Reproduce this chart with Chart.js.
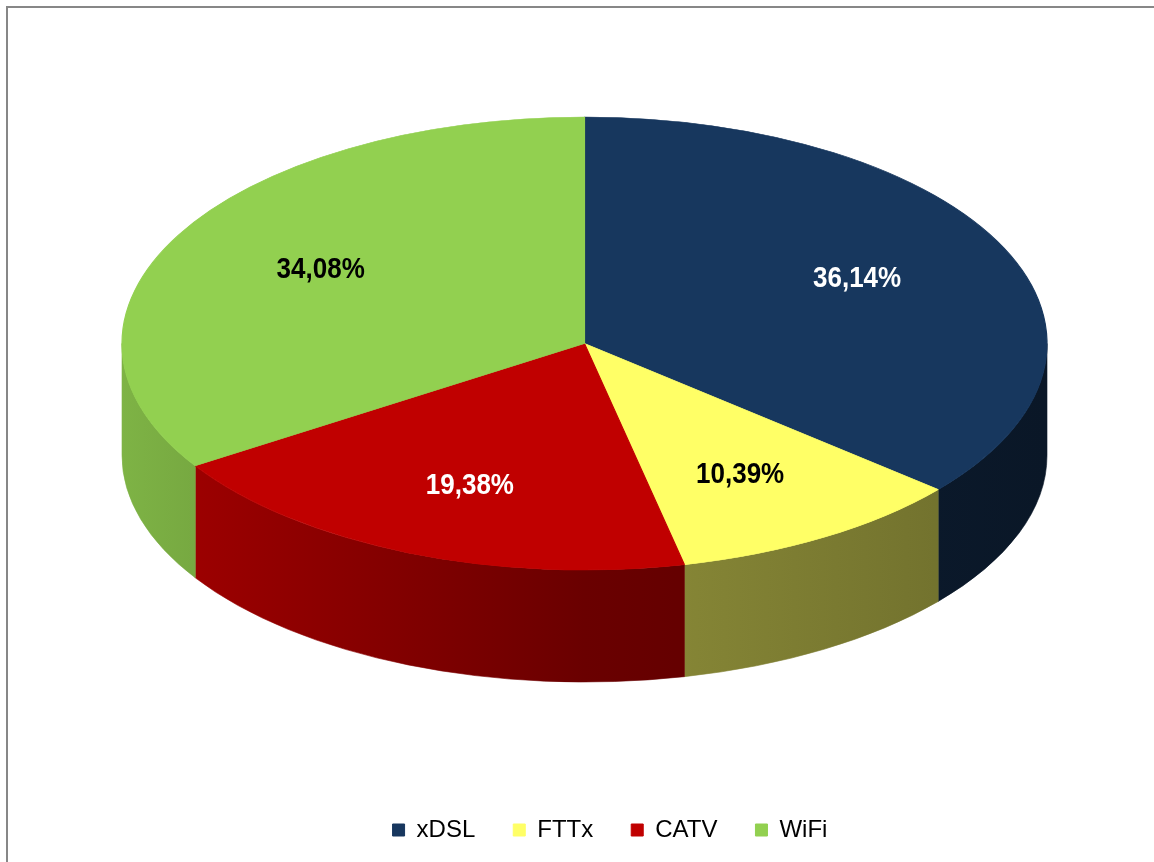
<!DOCTYPE html>
<html>
<head>
<meta charset="utf-8">
<script src="https://cdn.jsdelivr.net/npm/chart.js@4"></script>
<style>
    html, body { margin: 0; padding: 0; background: #fff; }
    #wrap { position: relative; width: 1154px; height: 862px; overflow: hidden; }
    #frame { position: absolute; left: 6px; top: 6px; width: 1200px; height: 900px; border: 2px solid #878787; box-sizing: border-box; }
    canvas { position: absolute; left: 0; top: 0; }
</style>
</head>
<body>
<div id="wrap">
    <div id="frame"></div>
    <canvas id="pie" width="1154" height="862"></canvas>
</div>
<script>
// data
const labels = ['xDSL', 'FTTx', 'CATV', 'WiFi'];
const shares = [36.14, 10.39, 19.38, 34.08];
const colors = ['#17375E', '#FFFF66', '#C00000', '#92D050'];
const labelColors = ['#FFFFFF', '#000000', '#FFFFFF', '#000000'];

// ellipse geometry of the top face (layout only)
const CX = 584.5, CY = 343.5, RX = 462.5, RY = 226.5, DEPTH = 112;

function shade(hex, f) {
    const n = parseInt(hex.slice(1), 16);
    const r = Math.round(((n >> 16) & 255) * f);
    const g = Math.round(((n >> 8) & 255) * f);
    const b = Math.round((n & 255) * f);
    return `rgb(${r},${g},${b})`;
}

// 3D effect: draw side walls, then squash the pie into an ellipse
const pie3d = {
    id: 'pie3d',
    beforeDatasetsDraw(chart) {
        const ctx = chart.ctx;
        const arcs = chart.getDatasetMeta(0).data;
        arcs.forEach((arc, i) => {
            [[0, Math.PI], [2 * Math.PI, 3 * Math.PI]].forEach(([lo, hi]) => {
                const s = Math.max(arc.startAngle, lo);
                const e = Math.min(arc.endAngle, hi);
                if (e <= s) return;
                const grad = ctx.createLinearGradient(CX - RX, 0, CX + RX, 0);
                grad.addColorStop(0, shade(colors[i], 0.86));
                grad.addColorStop(0.5, shade(colors[i], 0.55));
                grad.addColorStop(1, shade(colors[i], 0.42));
                ctx.beginPath();
                ctx.ellipse(CX, CY, RX, RY, 0, s, e);
                ctx.lineTo(CX + RX * Math.cos(e), CY + RY * Math.sin(e) + DEPTH);
                ctx.ellipse(CX, CY + DEPTH, RX, RY, 0, e, s, true);
                ctx.closePath();
                ctx.fillStyle = grad;
                ctx.fill();
                ctx.strokeStyle = grad;
                ctx.lineWidth = 0.6;
                ctx.stroke();
            });
        });
        const a = arcs[0];
        ctx.save();
        ctx.translate(CX, CY);
        ctx.scale(RX / a.outerRadius, RY / a.outerRadius);
        ctx.translate(-a.x, -a.y);
    },
    afterDatasetsDraw(chart) {
        const ctx = chart.ctx;
        ctx.restore();
        const arcs = chart.getDatasetMeta(0).data;
        arcs.forEach((arc, i) => {
            const mid = (arc.startAngle + arc.endAngle) / 2;
            const x = CX + RX * 0.65 * Math.cos(mid);
            const y = CY + RY * 0.68 * Math.sin(mid);
            ctx.save();
            ctx.translate(x, y);
            ctx.scale(1, 1.12);
            ctx.font = "bold 26px 'Liberation Sans', Arial, sans-serif";
            ctx.fillStyle = labelColors[i];
            ctx.textAlign = 'center';
            ctx.textBaseline = 'middle';
            ctx.fillText(shares[i].toFixed(2).replace('.', ',') + '%', 0, 0);
            ctx.restore();
        });
    }
};

new Chart(document.getElementById('pie'), {
    type: 'pie',
    data: {
        labels: labels,
        datasets: [{
            data: shares,
            backgroundColor: colors,
            borderColor: colors,
            borderWidth: 1,
            clip: false
        }]
    },
    options: {
        responsive: false,
        animation: false,
        events: [],
        layout: { padding: { left: 66, bottom: 10 } },
        plugins: {
            tooltip: { enabled: false },
            legend: {
                position: 'bottom',
                labels: {
                    boxWidth: 12,
                    boxHeight: 12,
                    padding: 38,
                    color: '#000',
                    font: { family: "'Liberation Sans', Arial, sans-serif", size: 24 }
                }
            }
        }
    },
    plugins: [pie3d]
});
</script>
</body>
</html>
